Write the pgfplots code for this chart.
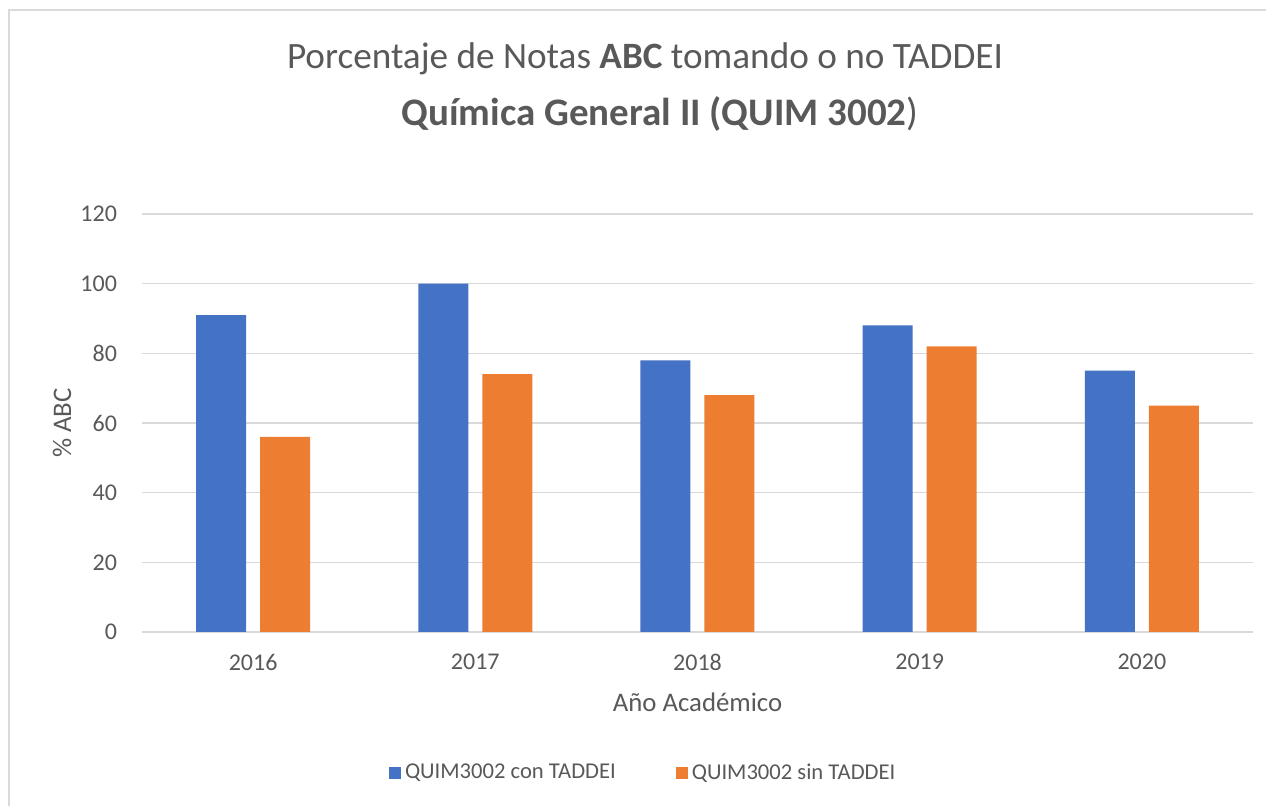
\documentclass[border=0pt]{standalone}
\usepackage{pgfplots}
\pgfplotsset{compat=1.18}
\usepackage{fontspec}
\setmainfont{Carlito}
\definecolor{cblue}{HTML}{4472C4}
\definecolor{corange}{HTML}{ED7D31}
\definecolor{tgray}{HTML}{595959}
\definecolor{ggray}{HTML}{D9D9D9}
\begin{document}
\begin{tikzpicture}[x=1pt,y=1pt]
\path[use as bounding box] (0,0) rectangle (633,403);
\draw[ggray,line width=1pt] (4.5,0) -- (4.5,398) -- (633,398);
\node[text=tgray,font=\fontsize{18.6}{22}\selectfont] at (322.5,373.5) {Porcentaje de Notas \textbf{ABC} tomando o no TADDEI};
\node[text=tgray,font=\fontsize{19.5}{23}\selectfont\bfseries] at (330,346) {Química General II (QUIM 3002\textmd{)}};
\begin{axis}[
  at={(71pt,87pt)}, anchor=south west,
  scale only axis, width=555.5pt, height=209pt,
  xmin=-0.5, xmax=4.5, ymin=0, ymax=120,
  xtick={0,1,2,3,4}, xticklabels={2016,2017,2018,2019,2020},
  ytick={0,20,40,60,80,100,120},
  axis x line*=bottom, axis y line*=left,
  x axis line style={ggray, line width=0.8pt, -},
  y axis line style={draw=none},
  ymajorgrids, grid style={ggray, line width=0.8pt},
  major tick length=0pt,
  tick label style={text=tgray, font=\fontsize{12}{14}\selectfont},
  /pgf/number format/assume math mode=true,
  xticklabel style={yshift=-7.5pt},
  ylabel={\% ABC}, xlabel={Año Académico},
  label style={text=tgray, font=\fontsize{13.4}{15}\selectfont},
  ylabel style={at={(axis description cs:-0.072,0.5)}, anchor=center},
  xlabel style={yshift=-4.5pt},
  yticklabel style={xshift=-9pt},
  legend style={at={(axis description cs:0.452,-0.337)}, anchor=center, draw=none, legend columns=2, font=\fontsize{11.3}{13}\selectfont, text=tgray, /tikz/every even column/.append style={column sep=28pt}},
  legend image code/.code={\fill[#1] (0pt,-3pt) rectangle (6pt,3pt);},
  clip=false,
]
\addplot[ybar, bar width=25pt, bar shift=-16pt, fill=cblue, draw=none] coordinates {(0,91) (1,100) (2,78) (3,88) (4,75)};
\addplot[ybar, bar width=25pt, bar shift=16pt, fill=corange, draw=none] coordinates {(0,56) (1,74) (2,68) (3,82) (4,65)};
\legend{QUIM3002 con TADDEI, QUIM3002 sin TADDEI}
\end{axis}
\end{tikzpicture}
\end{document}
